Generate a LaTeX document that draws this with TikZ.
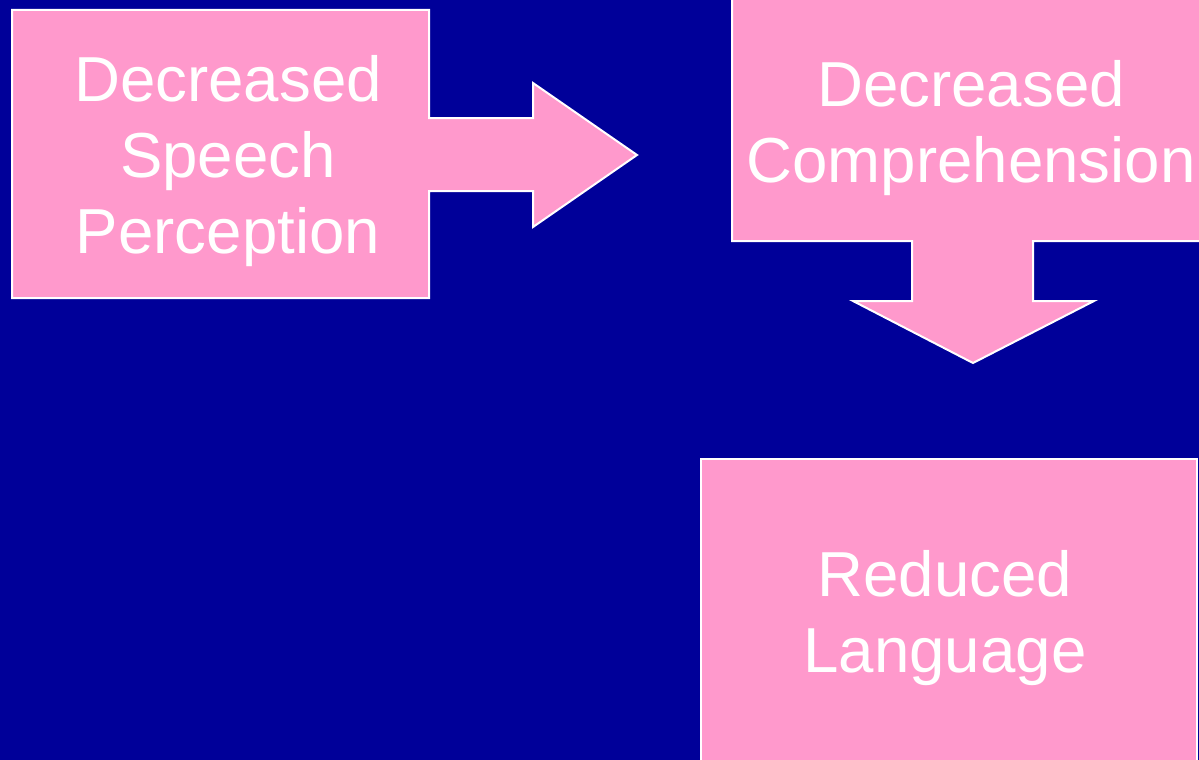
\documentclass[tikz,border=0pt]{standalone}
\usepackage{fontspec}
\setmainfont{Liberation Sans}
\definecolor{slideblue}{HTML}{000099}
\definecolor{slidepink}{HTML}{FF99CC}
\begin{document}
\begin{tikzpicture}[x=1pt,y=-1pt,
  callout/.style={fill=slidepink,draw=white,line width=2pt,line join=miter},
  caption/.style={text=white,align=center,font=\fontsize{63.6}{76}\selectfont}]
\fill[slideblue] (0,0) rectangle (1199,760);
\useasboundingbox (0,0) rectangle (1199,760);
% first box with arrow to the right
\draw[callout] (12,10) -- (429,10) -- (429,118) -- (533,118) -- (533,83) -- (637,155)
  -- (533,227) -- (533,191) -- (429,191) -- (429,298) -- (12,298) -- cycle;
\node[caption] (speech) at (228,161) {Decreased\\Speech\\Perception};
% second box with arrow down
\draw[callout] (732,-10) -- (1210,-10) -- (1210,241) -- (1033,241) -- (1033,301) -- (1094,301)
  -- (973,363) -- (853,301) -- (912,301) -- (912,241) -- (732,241) -- cycle;
\node[caption] (compr) at (971,128) {Decreased\\Comprehension};
% third box
\draw[callout] (701,459) -- (1197,459) -- (1197,770) -- (701,770) -- cycle;
\node[caption] (lang) at (945,618) {Reduced\\Language};
\end{tikzpicture}
\end{document}
